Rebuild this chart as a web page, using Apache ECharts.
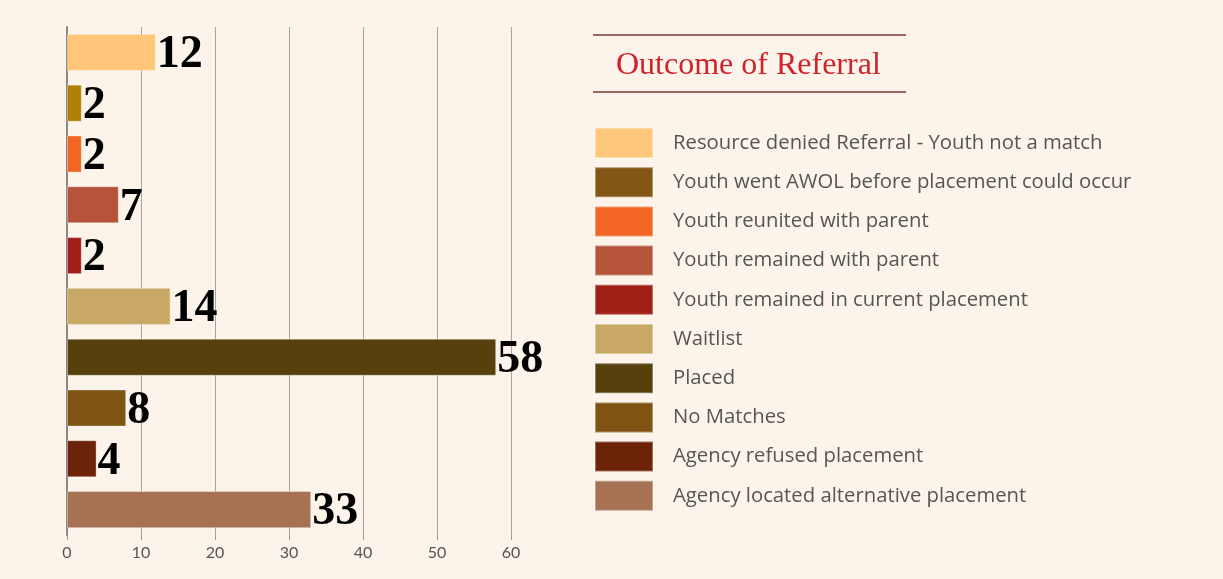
<!DOCTYPE html>
<html>
<head>
<meta charset="utf-8">
<script src="https://cdn.jsdelivr.net/npm/echarts@6/dist/echarts.min.js"></script>
<style>
  html, body { margin: 0; padding: 0; background: #fff; }
  #main { width: 1223px; height: 579px; }
</style>
</head>
<body>
<div id="main"></div>
<script>
const categories = [
  'Resource denied Referral - Youth not a match',
  'Youth went AWOL before placement could occur',
  'Youth reunited with parent',
  'Youth remained with parent',
  'Youth remained in current placement',
  'Waitlist',
  'Placed',
  'No Matches',
  'Agency refused placement',
  'Agency located alternative placement'
]
const counts = [12, 2, 2, 7, 2, 14, 58, 8, 4, 33]
const barColors = ['#ffc67a', '#b08008', '#f26522', '#b5543a', '#a01f16', '#c9a965', '#56400c', '#7f5413', '#6c2308', '#a77254']
const legendColors = ['#ffc77b', '#835616', '#f26522', '#b5543a', '#a01f16', '#c9a965', '#56400c', '#7f5413', '#6c2308', '#a77254']
const xTicks = [0, 10, 20, 30, 40, 50, 60]

const chart = echarts.init(document.getElementById('main'))

// one series per outcome so the legend lists each one; stacked so they share a slot
const series = categories.map((name, i) => ({
  name: name,
  type: 'bar',
  stack: 'all',
  barCategoryGap: '27%',
  itemStyle: { color: barColors[i], borderColor: 'rgba(255,255,255,0.35)', borderWidth: 1 },
  label: {
    show: true,
    position: 'right',
    distance: 1,
    offset: [0, 3],
    color: '#000',
    fontFamily: 'Liberation Serif',
    fontWeight: 'bold',
    fontSize: 46
  },
  data: counts.map((v, j) => (j === i ? v : null))
}))

const option = {
  backgroundColor: '#fcf4ea',
  animation: false,
  grid: { left: 67, right: 712, top: 27, bottom: 44 },
  xAxis: {
    type: 'value',
    min: xTicks[0],
    max: xTicks[xTicks.length - 1],
    interval: 10,
    axisLine: { show: false },
    axisTick: { show: true, length: 5, lineStyle: { color: '#999' } },
    splitLine: { show: true, lineStyle: { color: '#a8a4a0', width: 1 } },
    axisLabel: { color: '#555', fontFamily: 'Lato', fontSize: 16, margin: 10 }
  },
  yAxis: {
    type: 'category',
    inverse: true,
    data: categories,
    axisLine: { show: true, lineStyle: { color: '#8c8884', width: 2 } },
    axisTick: { show: false },
    axisLabel: { show: false }
  },
  legend: {
    orient: 'vertical',
    left: 589,
    top: 122,
    icon: 'rect',
    itemWidth: 58,
    itemHeight: 30,
    itemGap: 7.2,
    selectedMode: false,
    textStyle: { color: '#555', fontFamily: 'Open Sans', fontSize: 20.3, lineHeight: 22, padding: [0, 0, 0, 15] },
    data: categories.map((name, i) => ({ name: name, itemStyle: { color: legendColors[i] } }))
  },
  graphic: [
    { type: 'line', shape: { x1: 593, y1: 35, x2: 906, y2: 35 }, style: { stroke: '#7a3a32', lineWidth: 1.5 } },
    { type: 'line', shape: { x1: 593, y1: 92, x2: 906, y2: 92 }, style: { stroke: '#7a3a32', lineWidth: 1.5 } },
    {
      type: 'text',
      left: 616,
      top: 50,
      style: { text: 'Outcome of Referral', fill: '#d0222b', font: '32px "Liberation Serif"' }
    }
  ],
  series: series
}

chart.setOption(option)
</script>
</body>
</html>
